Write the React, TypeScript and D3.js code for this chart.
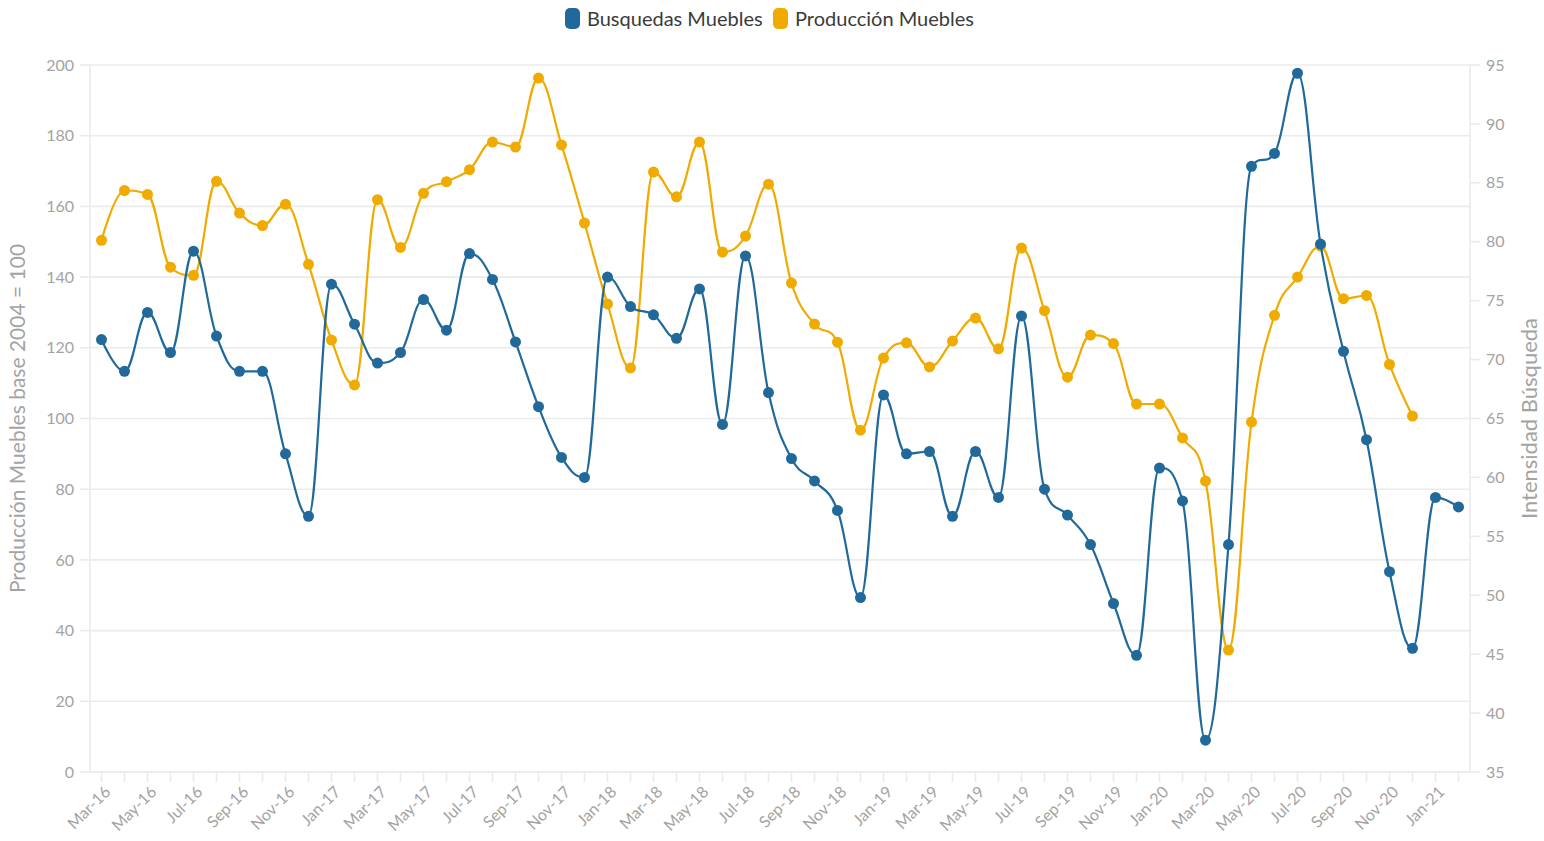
import React from "react";
import * as d3 from "d3";

const categories = [
  "Mar-16","Apr-16","May-16","Jun-16","Jul-16","Aug-16","Sep-16","Oct-16","Nov-16","Dec-16",
  "Jan-17","Feb-17","Mar-17","Apr-17","May-17","Jun-17","Jul-17","Aug-17","Sep-17","Oct-17","Nov-17","Dec-17",
  "Jan-18","Feb-18","Mar-18","Apr-18","May-18","Jun-18","Jul-18","Aug-18","Sep-18","Oct-18","Nov-18","Dec-18",
  "Jan-19","Feb-19","Mar-19","Apr-19","May-19","Jun-19","Jul-19","Aug-19","Sep-19","Oct-19","Nov-19","Dec-19",
  "Jan-20","Feb-20","Mar-20","Apr-20","May-20","Jun-20","Jul-20","Aug-20","Sep-20","Oct-20","Nov-20","Dec-20",
  "Jan-21","Feb-21",
];

// Busquedas Muebles (right axis, Intensidad Búsqueda)
const busquedas = [
  71.7, 69.0, 74.0, 70.6, 79.2, 72.0, 69.0, 69.0, 62.0, 56.7,
  76.4, 73.0, 69.7, 70.6, 75.1, 72.5, 79.0, 76.8, 71.5, 66.0, 61.7, 60.0,
  77.0, 74.5, 73.8, 71.8, 76.0, 64.5, 78.8, 67.2, 61.6, 59.7, 57.2, 49.8,
  67.0, 62.0, 62.2, 56.7, 62.2, 58.3, 73.7, 59.0, 56.8, 54.3, 49.3, 44.9,
  60.8, 58.0, 37.7, 54.3, 86.4, 87.5, 94.3, 79.8, 70.7, 63.2, 52.0, 45.5,
  58.3, 57.5,
];

// Producción Muebles (left axis, base 2004 = 100)
const produccion = [
  150.4, 164.5, 163.4, 142.8, 140.5, 167.1, 158.1, 154.6, 160.6, 143.6,
  122.2, 109.5, 161.9, 148.4, 163.7, 167.0, 170.4, 178.2, 176.8, 196.3, 177.4, 155.3,
  132.4, 114.3, 169.7, 162.7, 178.2, 147.1, 151.6, 166.3, 138.3, 126.7, 121.6, 96.7,
  117.1, 121.4, 114.6, 121.9, 128.4, 119.7, 148.2, 130.5, 111.7, 123.6, 121.2, 104.1,
  104.1, 94.5, 82.3, 34.5, 99.0, 129.2, 140.0, 148.8, 133.9, 134.8, 115.3, 100.7,
];

const leftTicks = [0, 20, 40, 60, 80, 100, 120, 140, 160, 180, 200];
const rightTicks = [35, 40, 45, 50, 55, 60, 65, 70, 75, 80, 85, 90, 95];

const BLUE = "#21699a";
const YELLOW = "#efab00";
const GRID = "#ebebeb";
const LABEL = "#a3a3a3";
const FONT = "Lato, 'Source Sans Pro', 'Open Sans', sans-serif";

// Highcharts-like spline as a d3 curve
function HCSpline(this: any, context: any) {
  this._context = context;
}
HCSpline.prototype = {
  areaStart() {},
  areaEnd() {},
  lineStart() {
    this._pts = [];
  },
  point(x: number, y: number) {
    this._pts.push([+x, +y]);
  },
  lineEnd() {
    const p: number[][] = this._pts;
    const n = p.length;
    const ctx = this._context;
    if (!n) return;
    const lc: (number[] | null)[] = new Array(n).fill(null);
    const rc: (number[] | null)[] = new Array(n).fill(null);
    const s = 1.5, den = 2.5;
    for (let i = 1; i < n - 1; i++) {
      const [x, y] = p[i];
      const [lx, ly] = p[i - 1];
      const [nx, ny] = p[i + 1];
      const lcx = (s * x + lx) / den;
      let lcy = (s * y + ly) / den;
      const rcx = (s * x + nx) / den;
      let rcy = (s * y + ny) / den;
      if (rcx !== lcx) {
        const corr = ((rcy - lcy) * (rcx - x)) / (rcx - lcx) + y - rcy;
        lcy += corr;
        rcy += corr;
      }
      if (lcy > ly && lcy > y) {
        lcy = Math.max(ly, y);
        rcy = 2 * y - lcy;
      } else if (lcy < ly && lcy < y) {
        lcy = Math.min(ly, y);
        rcy = 2 * y - lcy;
      }
      if (rcy > ny && rcy > y) {
        rcy = Math.max(ny, y);
        lcy = 2 * y - rcy;
      } else if (rcy < ny && rcy < y) {
        rcy = Math.min(ny, y);
        lcy = 2 * y - rcy;
      }
      lc[i] = [lcx, lcy];
      rc[i] = [rcx, rcy];
    }
    ctx.moveTo(p[0][0], p[0][1]);
    for (let i = 1; i < n; i++) {
      const a = rc[i - 1] || p[i - 1];
      const b = lc[i] || p[i];
      ctx.bezierCurveTo(a[0], a[1], b[0], b[1], p[i][0], p[i][1]);
    }
  },
};
const curveHC = (context: any) => new (HCSpline as any)(context);

export default function App() {
  const W = 1544, H = 841;
  const left = 90, right = 1470, top = 65, bottom = 772;

  const x = d3.scalePoint<string>().domain(categories).range([left, right]).padding(0.5);
  const yL = d3.scaleLinear().domain([0, 200]).range([bottom, top]);
  const yR = d3.scaleLinear().domain([35, 95]).range([bottom, top]);

  const lineProd = d3
    .line<number>()
    .x((_, i) => x(categories[i]) as number)
    .y((d) => yL(d))
    .curve(curveHC as any);
  const lineBus = d3
    .line<number>()
    .x((_, i) => x(categories[i]) as number)
    .y((d) => yR(d))
    .curve(curveHC as any);

  return (
    <svg
      width={W}
      height={H}
      style={{ position: "absolute", left: 0, top: 0, background: "#fff" }}
      fontFamily={FONT}
    >
      {/* grid */}
      {leftTicks.map((t) => (
        <line key={"g" + t} x1={left} x2={right} y1={yL(t)} y2={yL(t)} stroke={GRID} strokeWidth={1.6} />
      ))}
      {/* axis lines */}
      <line x1={left} x2={left} y1={top} y2={bottom} stroke={GRID} strokeWidth={1.6} />
      <line x1={right} x2={right} y1={top} y2={bottom} stroke={GRID} strokeWidth={1.6} />
      <line x1={left} x2={right} y1={bottom} y2={bottom} stroke={GRID} strokeWidth={1.6} />

      {/* left ticks and labels */}
      {leftTicks.map((t) => (
        <g key={"l" + t}>
          <line x1={left - 10} x2={left} y1={yL(t)} y2={yL(t)} stroke={GRID} strokeWidth={1.6} />
          <text x={74} y={yL(t)} dy="0.35em" textAnchor="end" fontSize={16} fill={LABEL}>
            {t}
          </text>
        </g>
      ))}
      {/* right ticks and labels */}
      {rightTicks.map((t) => (
        <g key={"r" + t}>
          <line x1={right} x2={right + 10} y1={yR(t)} y2={yR(t)} stroke={GRID} strokeWidth={1.6} />
          <text x={1486} y={yR(t)} dy="0.35em" textAnchor="start" fontSize={16} fill={LABEL}>
            {t}
          </text>
        </g>
      ))}
      {/* x ticks and labels */}
      {categories.map((c, i) => {
        const cx = x(c) as number;
        return (
          <g key={"x" + c}>
            <line x1={cx} x2={cx} y1={bottom} y2={bottom + 10} stroke={GRID} strokeWidth={1.6} />
            {i % 2 === 0 && (
              <text
                transform={`translate(${cx + 6},${bottom + 17}) rotate(-45)`}
                textAnchor="end"
                dy="0.35em"
                fontSize={16}
                fill={LABEL}
              >
                {c}
              </text>
            )}
          </g>
        );
      })}

      {/* axis titles */}
      <text
        transform={`translate(25,${(top + bottom) / 2}) rotate(-90)`}
        textAnchor="middle"
        fontSize={21}
        fill={LABEL}
      >
        Producción Muebles base 2004 = 100
      </text>
      <text
        transform={`translate(1537,${(top + bottom) / 2}) rotate(-90)`}
        textAnchor="middle"
        fontSize={22}
        fill={LABEL}
      >
        Intensidad Búsqueda
      </text>

      {/* series */}
      <path d={lineProd(produccion) || ""} fill="none" stroke={YELLOW} strokeWidth={2.2} />
      {produccion.map((v, i) => (
        <circle key={"p" + i} cx={x(categories[i]) as number} cy={yL(v)} r={5.5} fill={YELLOW} />
      ))}
      <path d={lineBus(busquedas) || ""} fill="none" stroke={BLUE} strokeWidth={2.2} />
      {busquedas.map((v, i) => (
        <circle key={"b" + i} cx={x(categories[i]) as number} cy={yR(v)} r={5.5} fill={BLUE} />
      ))}

      {/* legend */}
      <rect x={565} y={8} width={15} height={21} rx={5} fill={BLUE} />
      <text x={587} y={26} fontSize={20} fill="#3b3b3b">
        Busquedas Muebles
      </text>
      <rect x={773} y={8} width={15} height={21} rx={5} fill={YELLOW} />
      <text x={795} y={26} fontSize={20} fill="#3b3b3b">
        Producción Muebles
      </text>
    </svg>
  );
}
